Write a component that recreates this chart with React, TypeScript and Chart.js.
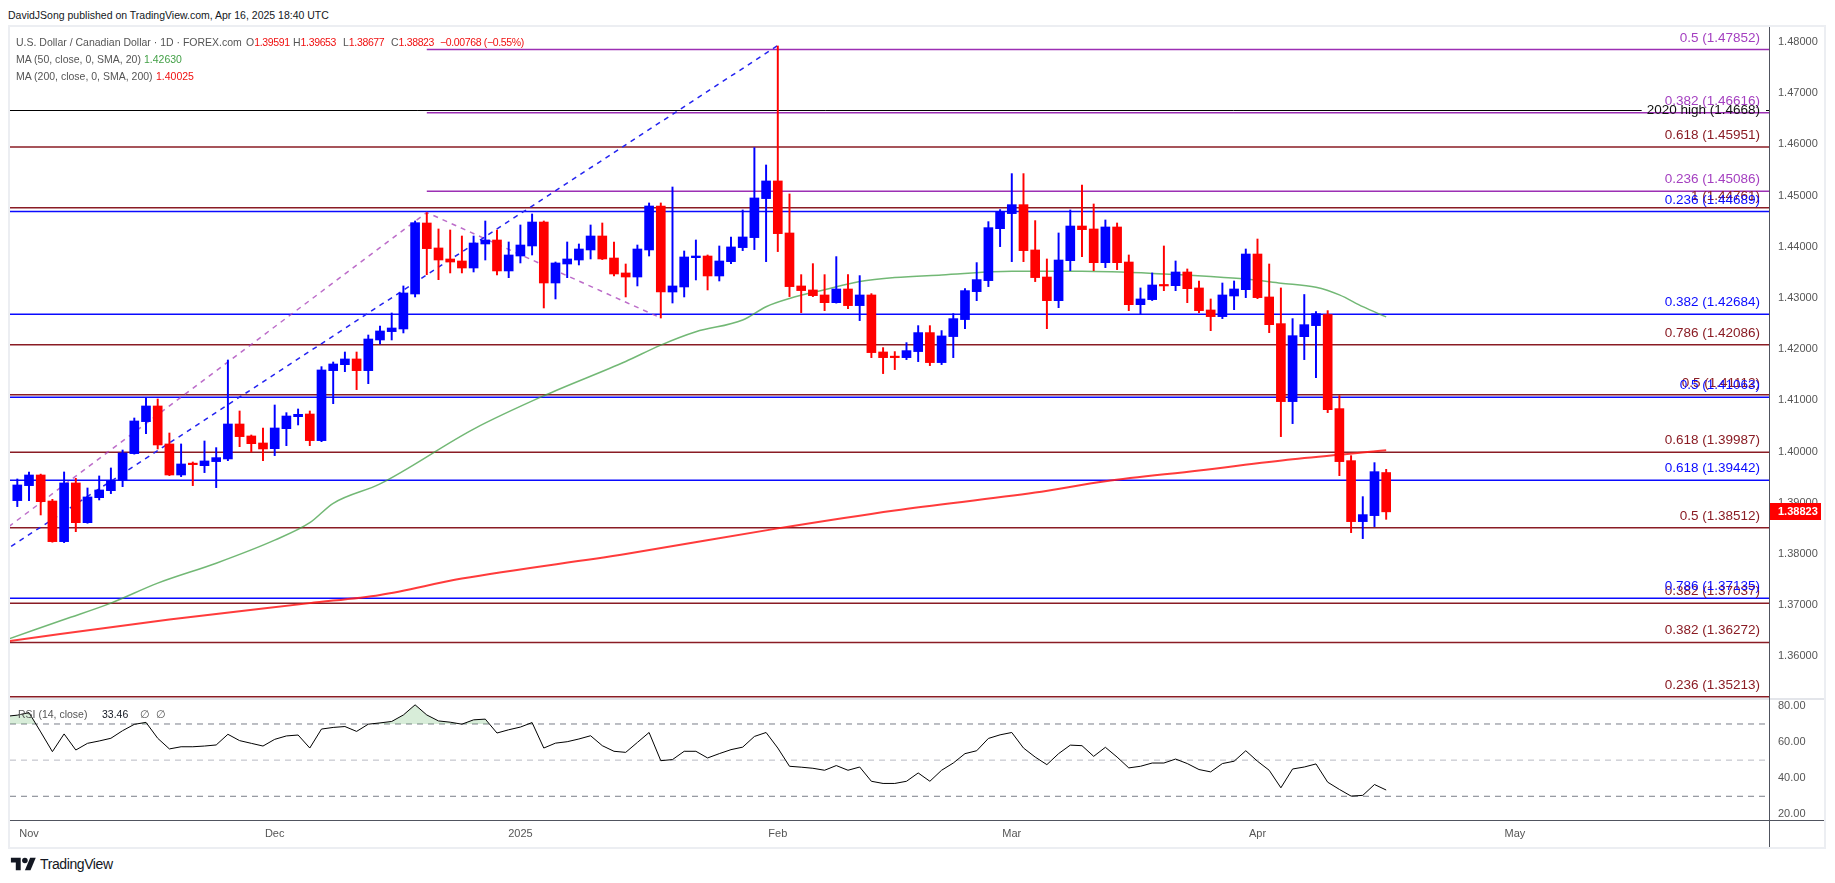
import React, { useEffect, useRef } from "react";
import { Chart, registerables } from "chart.js";

Chart.register(...registerables);

const FONT = '"Liberation Sans", Arial, sans-serif';

// Daily USD/CAD bars, index 0 = 2024-10-31 ... index 117 = 2025-04-16 (weekdays, no Dec 25 / Jan 1)
const opens = [
  1.39042, 1.39335, 1.39543, 1.39035, 1.38241, 1.39387, 1.38612, 1.391, 1.39237, 1.39439,
  1.3996, 1.40585, 1.40891, 1.40149, 1.39543, 1.39764, 1.39725, 1.39804, 1.39856, 1.40539,
  1.40305, 1.40168, 1.40057, 1.40448, 1.40682, 1.40734, 1.40214, 1.41581, 1.41698, 1.41809,
  1.41581, 1.4218, 1.42343, 1.42395, 1.43078, 1.44465, 1.43977, 1.43762, 1.43723, 1.43586,
  1.44055, 1.44133, 1.43528, 1.4382, 1.44016, 1.44484, 1.43293, 1.43664, 1.43742, 1.43938,
  1.44211, 1.43781, 1.43489, 1.4341, 1.43938, 1.44797, 1.43117, 1.43215, 1.43788, 1.4382,
  1.4343, 1.4371, 1.43984, 1.44179, 1.44941, 1.45286, 1.4427, 1.43235, 1.43157, 1.43059,
  1.42909, 1.43176, 1.42851, 1.43059, 1.41946, 1.41855, 1.41835, 1.41953, 1.42324, 1.41738,
  1.42246, 1.42578, 1.43124, 1.43339, 1.44354, 1.44648, 1.44823, 1.43938, 1.4341, 1.42948,
  1.43729, 1.44406, 1.44348, 1.4369, 1.44387, 1.43703, 1.4287, 1.42968, 1.43254, 1.43241,
  1.43508, 1.43196, 1.42766, 1.42636, 1.43039, 1.43163, 1.43859, 1.4302, 1.42499, 1.40976,
  1.42245, 1.4246, 1.42675, 1.40839, 1.39823, 1.38632, 1.38749, 1.39591,
];
const highs = [
  1.39465, 1.39602, 1.3956, 1.39068, 1.39602, 1.39478, 1.39289, 1.39524, 1.3968, 1.40031,
  1.40656, 1.41047, 1.41027, 1.40363, 1.40149, 1.39797, 1.40207, 1.40077, 1.41789, 1.40793,
  1.40324, 1.40461, 1.4091, 1.4076, 1.40832, 1.40793, 1.41659, 1.4175, 1.41945, 1.41945,
  1.42277, 1.42453, 1.42707, 1.43235, 1.44504, 1.44667, 1.44348, 1.44328, 1.44211, 1.44211,
  1.44504, 1.44328, 1.44094, 1.44426, 1.44641, 1.44504, 1.43703, 1.44094, 1.44055, 1.44426,
  1.44465, 1.44094, 1.43664, 1.44035, 1.44856, 1.44856, 1.45168, 1.43918, 1.44133, 1.4384,
  1.44016, 1.44192, 1.44719, 1.45937, 1.45598, 1.47922, 1.45032, 1.43456, 1.43671, 1.43456,
  1.43808, 1.43456, 1.43437, 1.43085, 1.42031, 1.41953, 1.42128, 1.4246, 1.4246, 1.42363,
  1.42695, 1.43183, 1.43691, 1.44491, 1.44726, 1.45429, 1.45429, 1.44511, 1.43762, 1.4427,
  1.44719, 1.45207, 1.44836, 1.44524, 1.44465, 1.4384, 1.43196, 1.43489, 1.44016, 1.43723,
  1.43567, 1.43332, 1.42981, 1.43293, 1.43332, 1.43957, 1.44152, 1.43664, 1.43196, 1.42597,
  1.43068, 1.42733, 1.42753, 1.41093, 1.39921, 1.3912, 1.39784, 1.39653,
];
const lows = [
  1.38925, 1.39042, 1.38762, 1.3823, 1.38222, 1.38436, 1.386, 1.39055, 1.39179, 1.39315,
  1.3995, 1.4035, 1.40051, 1.3953, 1.39511, 1.39335, 1.39589, 1.39296, 1.39823, 1.40096,
  1.39992, 1.39823, 1.39921, 1.40116, 1.4052, 1.40116, 1.40194, 1.40936, 1.41561, 1.4121,
  1.41327, 1.42102, 1.4218, 1.42317, 1.4302, 1.43456, 1.43358, 1.43489, 1.43489, 1.43508,
  1.43742, 1.4345, 1.43397, 1.43684, 1.4384, 1.42805, 1.42981, 1.43397, 1.43645, 1.43762,
  1.4375, 1.4343, 1.4302, 1.43235, 1.4382, 1.42609, 1.42902, 1.4302, 1.43352, 1.43157,
  1.43332, 1.43671, 1.43925, 1.43945, 1.4371, 1.43906, 1.43027, 1.42714, 1.43027, 1.42753,
  1.429, 1.42792, 1.42558, 1.41835, 1.41523, 1.41601, 1.41796, 1.41757, 1.41679, 1.41699,
  1.41835, 1.42402, 1.42948, 1.43222, 1.44003, 1.4371, 1.4371, 1.4332, 1.42401, 1.42811,
  1.43534, 1.43807, 1.43534, 1.43593, 1.43554, 1.42753, 1.42694, 1.4295, 1.43143, 1.43143,
  1.42909, 1.42714, 1.42362, 1.42597, 1.42772, 1.43007, 1.42987, 1.42323, 1.40292, 1.40546,
  1.41796, 1.41444, 1.40761, 1.3953, 1.38417, 1.383, 1.38534, 1.38677,
];
const closes = [
  1.39348, 1.39543, 1.39022, 1.38241, 1.39387, 1.38612, 1.39114, 1.3925, 1.39439, 1.39973,
  1.40598, 1.40891, 1.40129, 1.39543, 1.39758, 1.39745, 1.39817, 1.39882, 1.40539, 1.40292,
  1.40155, 1.40051, 1.40461, 1.40695, 1.40728, 1.40214, 1.41594, 1.41711, 1.41809, 1.41581,
  1.42199, 1.42356, 1.42414, 1.43098, 1.44471, 1.43964, 1.43742, 1.43703, 1.43586, 1.44074,
  1.44133, 1.43528, 1.4384, 1.44035, 1.44484, 1.43293, 1.43684, 1.43762, 1.43957, 1.44211,
  1.43762, 1.43469, 1.4341, 1.43957, 1.44797, 1.43117, 1.43235, 1.43801, 1.4382, 1.4343,
  1.43723, 1.43997, 1.44192, 1.44954, 1.45286, 1.44257, 1.43222, 1.43144, 1.43046, 1.42909,
  1.43176, 1.42851, 1.43059, 1.41933, 1.41835, 1.41835, 1.41972, 1.42324, 1.41738, 1.42259,
  1.42597, 1.43144, 1.43359, 1.44374, 1.44687, 1.44823, 1.43925, 1.43398, 1.42948, 1.43742,
  1.44406, 1.44335, 1.4369, 1.44387, 1.4369, 1.4287, 1.42981, 1.43254, 1.43235, 1.43508,
  1.43182, 1.42753, 1.42636, 1.43059, 1.43176, 1.43859, 1.43007, 1.42479, 1.40976, 1.42264,
  1.42479, 1.42694, 1.40819, 1.39804, 1.38632, 1.38769, 1.39608, 1.38823,
];

// RSI(14), first value belongs to bar index -1 (2024-10-30)
const rsiFirstIndex = -1;
const rsiValues = [
  74.2, 74.9, 76.3, 65.6, 54.7, 64.5, 55.6, 59.3, 60.6, 62.1, 66.3, 69.8, 70.9, 62.1, 56.2,
  57.4, 57.4, 57.8, 58.4, 64.3, 60.8, 59.3, 57.8, 61.5, 63.4, 63.9, 56.7, 67.2, 68.1, 68.6,
  65.9, 69.9, 70.6, 71.4, 75.0, 80.6, 75.0, 71.7, 71.0, 69.9, 72.3, 72.7, 65.0, 66.8, 68.3,
  70.8, 56.7, 59.4, 60.2, 61.7, 63.5, 58.0, 54.9, 54.3, 59.8, 65.3, 49.7, 50.3, 54.9, 54.9,
  51.2, 53.6, 55.8, 57.2, 63.1, 65.3, 56.7, 46.6, 46.1, 45.5, 44.4, 47.0, 44.4, 46.2, 38.3,
  37.1, 37.1, 38.3, 42.9, 38.3, 44.4, 48.4, 53.6, 55.2, 62.0, 64.0, 65.3, 56.7, 51.7, 47.5,
  53.6, 58.3, 58.0, 52.1, 57.1, 51.7, 45.7, 46.6, 48.4, 48.4, 50.6, 48.1, 44.8, 43.5, 48.1,
  49.4, 55.2, 49.4, 44.4, 34.7, 45.1, 46.2, 47.9, 37.8, 33.8, 30.1, 30.5, 36.5, 33.46,
];

// Moving averages at these bar indices
const ma50Index = [-1, 4, 8, 12, 17, 22, 25, 27, 31, 39, 45, 52, 55, 58, 62, 64, 66, 69, 72, 75, 79, 85, 91, 98, 102, 105, 108, 111, 113, 115, 117];
const ma50Values = [1.3632, 1.3672, 1.3704, 1.3743, 1.3782, 1.3827, 1.3861, 1.3899, 1.3937, 1.4044, 1.4109, 1.4176, 1.4208, 1.4234, 1.4257, 1.4283, 1.4299, 1.4316, 1.4332, 1.434, 1.4345, 1.4352, 1.4352, 1.4347, 1.4342, 1.4337, 1.4329, 1.4321, 1.4306, 1.4283, 1.4263];
const ma200Index = [-1, 13, 25, 31, 38, 52, 65, 75, 87, 93, 101, 109, 117];
const ma200Values = [1.3629, 1.3672, 1.3704, 1.372, 1.3752, 1.38, 1.385, 1.3885, 1.392, 1.3942, 1.3963, 1.3985, 1.40025];

const monthTickIndex = [1, 22, 43, 65, 85, 106, 128];
const monthTickLabels = ["Nov", "Dec", "2025", "Feb", "Mar", "Apr", "May"];
const priceTicks = [1.36, 1.37, 1.38, 1.39, 1.4, 1.41, 1.42, 1.43, 1.44, 1.45, 1.46, 1.47, 1.48];
const rsiTicks = [20, 40, 60, 80];
const rsiBands = [70, 50, 30];

// Fibonacci levels
const redFibRatios = ["0.618", "1", "0.786", "0.5", "0.618", "0.5", "0.382", "0.382", "0.236"];
const redFibValues = [1.45951, 1.44761, 1.42086, 1.41112, 1.39987, 1.38512, 1.37037, 1.36272, 1.35213];
const blueFibRatios = ["0.236", "0.382", "0.5", "0.618", "0.786"];
const blueFibValues = [1.44689, 1.42684, 1.41063, 1.39442, 1.37135];
const purpleFibRatios = ["0.5", "0.382", "0.236"];
const purpleFibValues = [1.47852, 1.46616, 1.45086];
const purpleFibStartIndex = 35;
const highLabel = "2020 high";
const highValue = 1.4668;

// Fib anchor trend lines
const blueTrendIndex = [-27, 65];
const blueTrendValues = [1.34195, 1.47932];
const purpleTrendIndex = [-26, 35, 55];
const purpleTrendValues = [1.34195, 1.4467, 1.4261];

const lastClose = 1.38823;

// ---- view ranges ----
const X_MIN = -0.624;
const X_MAX = 149.72;
const P_MIN = 1.35187;
const P_MAX = 1.48293;
const R_MIN = 16.87;
const R_MAX = 83.28;

const UP = "#0000ff";
const DOWN = "#ff0000";
const FIB_RED = "#8a1c24";
const FIB_BLUE = "#0a0aff";
const FIB_PURPLE = "#9c2fb4";
const AXIS_TEXT = "#555555";

function hLine(v: number, start: number, color: string) {
  return {
    type: "line",
    data: [
      { x: start, y: v },
      { x: X_MAX + 5, y: v },
    ],
    borderColor: color,
    borderWidth: 1.5,
    pointRadius: 0,
    order: 6,
  };
}

const noPad = (s: any) => {
  s.paddingTop = 0;
  s.paddingBottom = 0;
  s.paddingLeft = 0;
  s.paddingRight = 0;
};

const levelPlugin = {
  id: "levels",
  beforeDatasetsDraw(chart: any) {
    const { ctx, chartArea, scales } = chart;
    const y = Math.round(scales.y.getPixelForValue(highValue)) + 0.5;
    ctx.save();
    ctx.font = `13.5px ${FONT}`;
    const label = `${highLabel} (${highValue.toFixed(4)})`;
    const w = ctx.measureText(label).width;
    const right = chartArea.right - 9;
    ctx.strokeStyle = "#000";
    ctx.lineWidth = 1;
    ctx.beginPath();
    ctx.moveTo(scales.x.getPixelForValue(X_MIN), y);
    ctx.lineTo(right - w - 5, y);
    ctx.moveTo(right + 6, y);
    ctx.lineTo(chartArea.right, y);
    ctx.stroke();
    ctx.restore();
  },
  afterDatasetsDraw(chart: any) {
    const { ctx, chartArea, scales } = chart;
    const right = chartArea.right - 9;
    ctx.save();
    ctx.font = `13.5px ${FONT}`;
    ctx.textAlign = "right";
    ctx.textBaseline = "alphabetic";
    const group = (ratios: string[], values: number[], color: string) => {
      ctx.fillStyle = color;
      values.forEach((v, k) => {
        const y = scales.y.getPixelForValue(v);
        ctx.fillText(`${ratios[k]} (${v.toFixed(5)})`, right, y - 8);
      });
    };
    group(redFibRatios, redFibValues, FIB_RED);
    group(blueFibRatios, blueFibValues, FIB_BLUE);
    group(purpleFibRatios, purpleFibValues, "#a43fc0");
    ctx.fillStyle = "#111";
    ctx.textBaseline = "middle";
    ctx.fillText(`${highLabel} (${highValue.toFixed(4)})`, right, scales.y.getPixelForValue(highValue) + 0.5);
    ctx.restore();
  },
  afterDraw(chart: any) {
    const { ctx, chartArea, scales } = chart;
    const y = scales.y.getPixelForValue(lastClose);
    ctx.save();
    ctx.fillStyle = "#ff0000";
    ctx.fillRect(chartArea.right, Math.round(y - 8.5), 52, 17);
    ctx.fillStyle = "#fff";
    ctx.font = `bold 11px ${FONT}`;
    ctx.textAlign = "left";
    ctx.textBaseline = "middle";
    ctx.fillText(lastClose.toFixed(5), chartArea.right + 9, y + 0.5);
    ctx.restore();
  },
};

function mainConfig(): any {
  const idx = opens.map((_, i) => i);
  const colors = idx.map((i) => (closes[i] >= opens[i] ? UP : DOWN));
  const datasets: any[] = [];
  datasets.push({
    type: "bar",
    data: idx.map((i) => ({ x: i, y: [opens[i], closes[i]] })),
    backgroundColor: colors,
    borderWidth: 0,
    barThickness: 9,
    minBarLength: 1.5,
    grouped: false,
    order: 0,
  });
  datasets.push({
    type: "bar",
    data: idx.map((i) => ({ x: i, y: [lows[i], highs[i]] })),
    backgroundColor: colors,
    borderWidth: 0,
    barThickness: 1.3,
    grouped: false,
    order: 1,
  });
  datasets.push({
    type: "line",
    data: ma50Index.map((x, k) => ({ x, y: ma50Values[k] })),
    borderColor: "rgba(67,160,71,0.75)",
    borderWidth: 1.5,
    pointRadius: 0,
    cubicInterpolationMode: "monotone",
    order: 2,
  });
  datasets.push({
    type: "line",
    data: ma200Index.map((x, k) => ({ x, y: ma200Values[k] })),
    borderColor: "rgba(255,25,25,0.85)",
    borderWidth: 2,
    pointRadius: 0,
    cubicInterpolationMode: "monotone",
    order: 3,
  });
  datasets.push({
    type: "line",
    data: blueTrendIndex.map((x, k) => ({ x, y: blueTrendValues[k] })),
    borderColor: "#2323f0",
    borderWidth: 1.5,
    borderDash: [5, 5],
    pointRadius: 0,
    order: 4,
  });
  datasets.push({
    type: "line",
    data: purpleTrendIndex.map((x, k) => ({ x, y: purpleTrendValues[k] })),
    borderColor: "rgba(171,71,188,0.8)",
    borderWidth: 1.5,
    borderDash: [5, 5],
    pointRadius: 0,
    order: 4,
  });
  redFibValues.forEach((v) => datasets.push(hLine(v, X_MIN - 2, FIB_RED)));
  blueFibValues.forEach((v) => datasets.push(hLine(v, X_MIN - 2, FIB_BLUE)));
  purpleFibValues.forEach((v) => datasets.push(hLine(v, purpleFibStartIndex, FIB_PURPLE)));

  return {
    type: "bar",
    data: { datasets },
    options: {
      animation: false,
      responsive: false,
      maintainAspectRatio: false,
      events: [],
      layout: { padding: 0, autoPadding: false },
      plugins: { legend: { display: false }, tooltip: { enabled: false } },
      scales: {
        x: {
          type: "linear",
          min: X_MIN,
          max: X_MAX,
          offset: false,
          display: false,
        },
        y: {
          type: "linear",
          position: "right",
          min: P_MIN,
          max: P_MAX,
          grid: { display: false, drawTicks: false },
          border: { display: false },
          afterBuildTicks: (s: any) => {
            s.ticks = priceTicks.map((value) => ({ value }));
          },
          afterFit: (s: any) => {
            s.width = 55;
            noPad(s);
          },
          ticks: {
            padding: 9,
            color: AXIS_TEXT,
            font: { family: FONT, size: 11 },
            callback: (v: any) => Number(v).toFixed(5),
          },
        },
      },
    },
    plugins: [levelPlugin],
  };
}

function rsiConfig(): any {
  const datasets: any[] = [];
  datasets.push({
    data: rsiValues.map((y, k) => ({ x: k + rsiFirstIndex, y })),
    borderColor: "#000",
    borderWidth: 1,
    pointRadius: 0,
    fill: { target: { value: 70 }, above: "rgba(76,175,80,0.22)", below: "rgba(0,0,0,0)" },
    order: 0,
  });
  rsiBands.forEach((b) =>
    datasets.push({
      data: [
        { x: X_MIN, y: b },
        { x: X_MAX, y: b },
      ],
      borderColor: b === 50 ? "#b8bac2" : "#7a7d88",
      borderWidth: 1,
      borderDash: [6, 5],
      pointRadius: 0,
      order: 1,
    })
  );
  return {
    type: "line",
    data: { datasets },
    options: {
      animation: false,
      responsive: false,
      maintainAspectRatio: false,
      events: [],
      layout: { padding: { top: 2, left: 0, right: 0, bottom: 0 }, autoPadding: false },
      plugins: { legend: { display: false }, tooltip: { enabled: false } },
      scales: {
        x: {
          type: "linear",
          min: X_MIN,
          max: X_MAX,
          position: "bottom",
          grid: { display: false, drawTicks: false },
          border: { display: false },
          afterBuildTicks: (s: any) => {
            s.ticks = monthTickIndex.map((value) => ({ value }));
          },
          afterFit: (s: any) => {
            s.height = 27;
            noPad(s);
          },
          ticks: {
            padding: 7,
            maxRotation: 0,
            autoSkip: false,
            color: AXIS_TEXT,
            font: { family: FONT, size: 11 },
            callback: (_v: any, i: number) => monthTickLabels[i],
          },
        },
        y: {
          type: "linear",
          position: "right",
          min: R_MIN,
          max: R_MAX,
          grid: { display: false, drawTicks: false },
          border: { display: false },
          afterBuildTicks: (s: any) => {
            s.ticks = rsiTicks.map((value) => ({ value }));
          },
          afterFit: (s: any) => {
            s.width = 55;
            noPad(s);
          },
          ticks: {
            padding: 9,
            color: AXIS_TEXT,
            font: { family: FONT, size: 11 },
            callback: (v: any) => Number(v).toFixed(2),
          },
        },
      },
    },
  };
}

const abs = (left: number, top: number, extra: any = {}) => ({
  position: "absolute" as const,
  left,
  top,
  whiteSpace: "nowrap" as const,
  ...extra,
});

export default function App() {
  const mainRef = useRef<HTMLCanvasElement>(null);
  const rsiRef = useRef<HTMLCanvasElement>(null);

  useEffect(() => {
    const main = new Chart(mainRef.current as HTMLCanvasElement, mainConfig());
    const rsi = new Chart(rsiRef.current as HTMLCanvasElement, rsiConfig());
    return () => {
      main.destroy();
      rsi.destroy();
    };
  }, []);

  const legendFont = { fontSize: 10.5, lineHeight: "14px", fontFamily: FONT };
  const gray = "#555";
  const red = "#f01010";
  const num = { color: red, letterSpacing: -0.35 };

  return (
    <div
      style={{
        position: "absolute",
        left: 0,
        top: 0,
        width: 1835,
        height: 883,
        background: "#fff",
        overflow: "hidden",
        fontFamily: FONT,
      }}
    >
      <div style={abs(8, 8, { fontSize: 10.5, lineHeight: "14px", color: "#131722" })}>
        DavidJSong published on TradingView.com, Apr 16, 2025 18:40 UTC
      </div>

      <div
        style={{
          position: "absolute",
          left: 8,
          top: 25,
          width: 1818,
          height: 824,
          border: "2px solid #eceef2",
          boxSizing: "border-box",
        }}
      />

      <canvas
        ref={mainRef}
        width={1814}
        height={671}
        style={{ position: "absolute", left: 10, top: 27, width: 1814, height: 671 }}
      />
      <canvas
        ref={rsiRef}
        width={1814}
        height={149}
        style={{ position: "absolute", left: 10, top: 698, width: 1814, height: 149 }}
      />

      {/* pane separators and axis lines */}
      <div style={{ position: "absolute", left: 10, top: 698, width: 1814, height: 2, background: "#e3e5ea" }} />
      <div style={{ position: "absolute", left: 10, top: 820, width: 1814, height: 1, background: "#50535e" }} />
      <div style={{ position: "absolute", left: 1769, top: 27, width: 1, height: 820, background: "#50535e" }} />

      {/* main legend */}
      <div style={abs(16, 35, { ...legendFont, color: gray })}>
        U.S. Dollar / Canadian Dollar · 1D · FOREX.com
      </div>
      <div style={abs(246, 35, { ...legendFont, color: gray })}>
        O<span style={num}>1.39591</span>
      </div>
      <div style={abs(293, 35, { ...legendFont, color: gray })}>
        H<span style={num}>1.39653</span>
      </div>
      <div style={abs(343, 35, { ...legendFont, color: gray })}>
        L<span style={num}>1.38677</span>
      </div>
      <div style={abs(391, 35, { ...legendFont, color: gray })}>
        C<span style={num}>1.38823</span>
      </div>
      <div style={abs(440, 35, { ...legendFont, ...num })}>−0.00768 (−0.55%)</div>

      <div style={abs(16, 52, { ...legendFont, color: gray })}>MA (50, close, 0, SMA, 20)</div>
      <div style={abs(144, 52, { ...legendFont, color: "#43a047" })}>1.42630</div>
      <div style={abs(16, 69, { ...legendFont, color: gray })}>MA (200, close, 0, SMA, 200)</div>
      <div style={abs(156, 69, { ...legendFont, color: red })}>1.40025</div>

      {/* RSI legend */}
      <div style={abs(18, 707, { ...legendFont, color: gray })}>RSI (14, close)</div>
      <div style={abs(102, 707, { ...legendFont, color: "#131722" })}>33.46</div>
      <div style={abs(140, 707, { ...legendFont, color: gray })}>∅</div>
      <div style={abs(156, 707, { ...legendFont, color: gray })}>∅</div>

      {/* footer */}
      <svg
        width={27}
        height={14}
        viewBox="0 3 36 20"
        style={{ position: "absolute", left: 10, top: 857 }}
      >
        <path d="M14 22H7V11H0V4h14v18Z" fill="#131722" />
        <path d="M28 22h-8l7.5-18h8L28 22Z" fill="#131722" />
        <circle cx="20" cy="8" r="4" fill="#131722" />
      </svg>
      <div style={abs(40, 856, { fontSize: 14, lineHeight: "16px", color: "#131722", letterSpacing: -0.4 })}>
        TradingView
      </div>
    </div>
  );
}
